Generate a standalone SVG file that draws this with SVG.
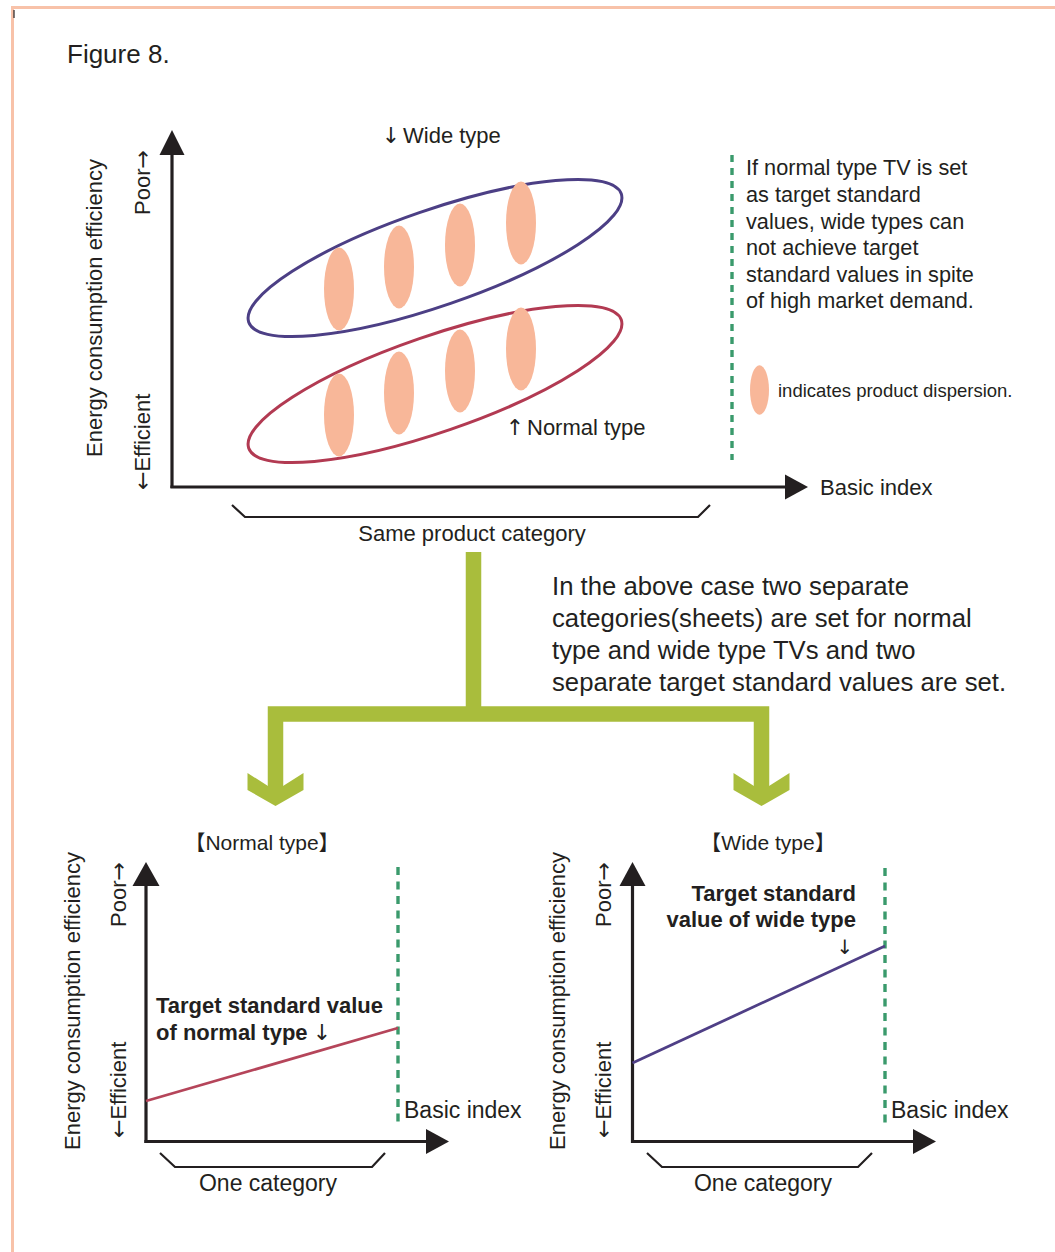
<svg xmlns="http://www.w3.org/2000/svg" width="1055" height="1252" viewBox="0 0 1055 1252">
  <style>
    text { font-family: "Liberation Sans", "Noto Sans CJK JP", sans-serif; fill: #231f20; }
    .arr { font-family: "DejaVu Sans", sans-serif; font-weight: normal; }
    .axis { stroke: #231f20; stroke-width: 3.2; fill: none; }
    .head { fill: #231f20; }
    .brace { stroke: #231f20; stroke-width: 2.2; fill: none; }
    .limit { stroke: #3a9a6c; stroke-width: 3.4; stroke-dasharray: 7 6; fill: none; }
    .blob { fill: #f8b799; }
    .wide { stroke: #4c3f85; stroke-width: 3; fill: none; }
    .normal { stroke: #b23a52; stroke-width: 3; fill: none; }
    .flow { stroke: #a9bd3c; stroke-width: 15.5; fill: none; stroke-linejoin: miter; }
    .flowhead { fill: #a9bd3c; }
    .t22 { font-size: 22px; }
    .bold { font-size: 22px; font-weight: bold; }
  </style>

  <!-- page frame -->
  <g id="frame">
    <path d="M12.5 1252 V7.5 H1055" stroke="#f8c2a9" stroke-width="3" fill="none"/>
    <line x1="14" y1="10" x2="14" y2="18" stroke="#231f20" stroke-width="1.2"/>
  </g>

  <g id="title">
    <text x="67" y="63" style="font-size:26px">Figure 8.</text>
  </g>

  <!-- upper chart: both types in one category -->
  <g id="chart-combined">
    <line class="axis" x1="172" y1="488" x2="172" y2="152"/>
    <polygon class="head" points="159.5,155 184.5,155 172,130"/>
    <line class="axis" x1="170.4" y1="487" x2="788" y2="487"/>
    <polygon class="head" points="785,474.5 785,499.5 808,487"/>
    <text class="t22" transform="translate(102 457) rotate(-90)">Energy consumption efficiency</text>
    <text class="t22" transform="translate(150 215) rotate(-90)">Poor<tspan class="arr">→</tspan></text>
    <text class="t22" transform="translate(150 490) rotate(-90)"><tspan class="arr">←</tspan>Efficient</text>
    <text class="t22" x="820" y="495">Basic index</text>

    <g id="wide-group">
      <ellipse class="wide" cx="435" cy="258" rx="197" ry="48" transform="rotate(-19 435 258)"/>
      <ellipse class="blob" cx="339" cy="289" rx="15" ry="41.5"/>
      <ellipse class="blob" cx="399" cy="267" rx="15" ry="41.5"/>
      <ellipse class="blob" cx="460" cy="245" rx="15" ry="41.5"/>
      <ellipse class="blob" cx="521" cy="223" rx="15" ry="41.5"/>
      <text class="t22 arr" x="391" y="143" text-anchor="middle">↓</text>
      <text class="t22" x="403" y="143">Wide type</text>
    </g>

    <g id="normal-group">
      <ellipse class="normal" cx="435" cy="384" rx="197" ry="48" transform="rotate(-19 435 384)"/>
      <ellipse class="blob" cx="339" cy="415" rx="15" ry="41.5"/>
      <ellipse class="blob" cx="399" cy="393" rx="15" ry="41.5"/>
      <ellipse class="blob" cx="460" cy="371" rx="15" ry="41.5"/>
      <ellipse class="blob" cx="521" cy="349" rx="15" ry="41.5"/>
      <text class="t22 arr" x="515" y="435" text-anchor="middle">↑</text>
      <text class="t22" x="527" y="435">Normal type</text>
    </g>

    <path class="brace" d="M232 505 L245 517 H698 L710 505"/>
    <text class="t22" x="472" y="541" text-anchor="middle">Same product category</text>
  </g>

  <!-- note beside the upper chart -->
  <g id="note">
    <line class="limit" x1="732" y1="155" x2="732" y2="460"/>
    <text style="font-size:21.7px">
      <tspan x="746" y="175">If normal type TV is set</tspan>
      <tspan x="746" y="202">as target standard</tspan>
      <tspan x="746" y="229">values, wide types can</tspan>
      <tspan x="746" y="255">not achieve target</tspan>
      <tspan x="746" y="282">standard values in spite</tspan>
      <tspan x="746" y="308">of high market demand.</tspan>
    </text>
  </g>

  <g id="legend">
    <ellipse class="blob" cx="759.5" cy="390" rx="9.5" ry="24.7"/>
    <text x="778" y="397" style="font-size:18.5px">indicates product dispersion.</text>
  </g>

  <g id="explanation">
    <text style="font-size:25.7px">
      <tspan x="552" y="595">In the above case two separate</tspan>
      <tspan x="552" y="627">categories(sheets) are set for normal</tspan>
      <tspan x="552" y="659">type and wide type TVs and two</tspan>
      <tspan x="552" y="691">separate target standard values are set.</tspan>
    </text>
  </g>

  <!-- split arrows -->
  <g id="connectors">
    <path class="flow" d="M473.5 552 V714"/>
    <path class="flow" d="M275.5 788 V714 H761.5 V788"/>
    <polygon class="flowhead" points="247.5,773 268,786 283,786 303.5,773 303.5,790 275.5,806 247.5,790"/>
    <polygon class="flowhead" points="733.5,773 754,786 769,786 789.5,773 789.5,790 761.5,806 733.5,790"/>
  </g>

  <!-- lower left chart: normal type -->
  <g id="chart-normal">
    <text x="262" y="850" text-anchor="middle" style="font-size:21px">【Normal type】</text>
    <line class="axis" x1="146" y1="1143" x2="146" y2="884"/>
    <polygon class="head" points="132.5,886 159.5,886 146,862"/>
    <line class="axis" x1="144.4" y1="1141.5" x2="428" y2="1141.5"/>
    <polygon class="head" points="426,1129 426,1154 449,1141.5"/>
    <text class="t22" transform="translate(79.5 1150) rotate(-90)">Energy consumption efficiency</text>
    <text class="t22" transform="translate(126 927) rotate(-90)">Poor<tspan class="arr">→</tspan></text>
    <text class="t22" transform="translate(126 1138) rotate(-90)"><tspan class="arr">←</tspan>Efficient</text>
    <line class="limit" x1="398" y1="867" x2="398" y2="1127" style="stroke-dasharray:8 6.5"/>
    <line x1="146" y1="1101" x2="398" y2="1028" stroke="#b5455a" stroke-width="2.8"/>
    <text class="bold" x="156" y="1013">Target standard value</text>
    <text class="bold" x="156" y="1040">of normal type</text>
    <text class="t22 arr" x="322" y="1040" text-anchor="middle">↓</text>
    <text x="404" y="1118" style="font-size:23px">Basic index</text>
    <path class="brace" d="M160 1153 L175 1167 H372 L385 1153"/>
    <text x="268" y="1191" text-anchor="middle" style="font-size:23px">One category</text>
  </g>

  <!-- lower right chart: wide type -->
  <g id="chart-wide">
    <text x="768" y="850" text-anchor="middle" style="font-size:21px">【Wide type】</text>
    <line class="axis" x1="632.5" y1="1143" x2="632.5" y2="884"/>
    <polygon class="head" points="619.5,886 645.5,886 632.5,862"/>
    <line class="axis" x1="631" y1="1141.5" x2="915" y2="1141.5"/>
    <polygon class="head" points="913,1129 913,1154 936,1141.5"/>
    <text class="t22" transform="translate(565 1150) rotate(-90)">Energy consumption efficiency</text>
    <text class="t22" transform="translate(611 927) rotate(-90)">Poor<tspan class="arr">→</tspan></text>
    <text class="t22" transform="translate(611 1138) rotate(-90)"><tspan class="arr">←</tspan>Efficient</text>
    <line class="limit" x1="885" y1="868" x2="885" y2="1127" style="stroke-dasharray:8 6.5"/>
    <line x1="632.5" y1="1063" x2="885" y2="946" stroke="#4f3f86" stroke-width="2.8"/>
    <text class="bold" x="856" y="901" text-anchor="end">Target standard</text>
    <text class="bold" x="856" y="927" text-anchor="end">value of wide type</text>
    <text class="arr" x="845" y="954" text-anchor="middle" style="font-size:20px">↓</text>
    <text x="891" y="1118" style="font-size:23px">Basic index</text>
    <path class="brace" d="M647 1153 L662 1167 H858 L872 1153"/>
    <text x="763" y="1191" text-anchor="middle" style="font-size:23px">One category</text>
  </g>
</svg>
